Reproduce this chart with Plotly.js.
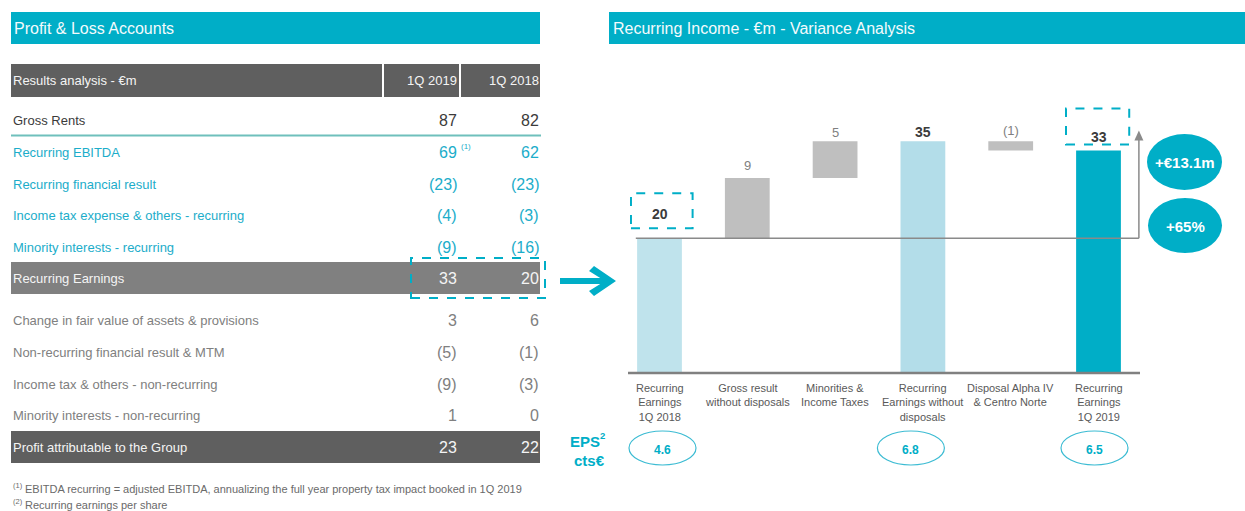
<!DOCTYPE html>
<html>
<head>
<meta charset="utf-8">
<script src="https://cdn.plot.ly/plotly-3.0.1.min.js"></script>
<style>html,body{margin:0;padding:0;background:#fff;}#chart{width:1245px;height:511px;}</style>
</head>
<body>
<div id="chart"></div>
<script>
// ---------------- DATA ----------------
// Left table: Profit & Loss Accounts (EUR m)
const rowLabels = ['Gross Rents','Recurring EBITDA','Recurring financial result','Income tax expense & others - recurring','Minority interests - recurring','Recurring Earnings','Change in fair value of assets & provisions','Non-recurring financial result & MTM','Income tax & others - non-recurring','Minority interests - non-recurring','Profit attributable to the Group'];
const q1_2019 = [87, 69, -23, -4, -9, 33, 3, -5, -9, 1, 23];
const q1_2018 = [82, 62, -23, -3, -16, 20, 6, -1, -3, 0, 22];
const columnHeaders = ['Results analysis - €m', '1Q 2019', '1Q 2018'];
const footnotes = ['EBITDA recurring = adjusted EBITDA, annualizing the full year property tax impact booked in 1Q 2019', 'Recurring earnings per share'];
const footnoteMarks = ['(1)', '(2)'];

// Right chart: Recurring Income variance (EUR m)
const categories = ['Recurring<br>Earnings<br>1Q 2018','Gross result<br>without disposals','Minorities &<br>Income Taxes','Recurring<br>Earnings without<br>disposals','Disposal Alpha IV<br>& Centro Norte','Recurring<br>Earnings<br>1Q 2019'];
const measures = ['absolute','relative','relative','total','relative','total'];
const values = [20.1, 9.0, 5.5, null, -1.4, null];
const valueLabels = ['20','9','5','35','(1)','33'];
const epsIndex = [0, 3, 5];
const epsValues = ['4.6','6.8','6.5'];

// ---------------- STYLE ----------------
const TEAL = '#00AEC7';
const W = 1245, H = 511;
const px = x => x / W;
const py = y => 1 - y / H;
const ARIAL = 'Liberation Sans, Arial, sans-serif';

// plot-area geometry (pixels)
const PX0 = 615.6, PX1 = 1142.4, PYB = 373, PYT = 105, YMAX = 40;
const xPix = c => PX0 + (c + 0.5) / 6 * (PX1 - PX0);
const yPix = v => PYB - v / YMAX * (PYB - PYT);

const rowY = [120,152,184,215,247,278,320,352,384,415,447];
const rowKind = ['dark','teal','teal','teal','teal','band','gray','gray','gray','gray','band2'];
const kindColor = {dark:'#3b3b3b', teal:'#1cadca', gray:'#808080', band:'#f4f4f4', band2:'#f4f4f4'};
const barColors = ['#bfe3ec','#bfbfbf','#bfbfbf','#b3dde9','#bfbfbf', TEAL];
const labelStyle = [
  {size:14, color:'#3b3b3b', bold:true, shift:24},
  {size:13, color:'#7f7f7f', bold:false, shift:13},
  {size:13, color:'#7f7f7f', bold:false, shift:9},
  {size:14, color:'#3b3b3b', bold:true, shift:9},
  {size:13, color:'#7f7f7f', bold:false, shift:11},
  {size:14, color:'#3b3b3b', bold:true, shift:14}
];
const epsShift = [3, -12, -4];

function fmt(v){ return v < 0 ? '(' + Math.abs(v) + ')' : String(v); }

// ---------------- WATERFALL COMPUTATION ----------------
let running = 0;
const bases = [], heights = [], tops = [];
measures.forEach((m, i) => {
  if (m === 'absolute') { bases.push(0); heights.push(values[i]); running = values[i]; tops.push(running); }
  else if (m === 'relative') {
    const prev = running;
    running += values[i];
    bases.push(Math.min(prev, running)); heights.push(Math.abs(values[i])); tops.push(Math.max(prev, running));
  } else { bases.push(0); heights.push(running); tops.push(running); }
});
const startVal = tops[0];
const endVal = tops[tops.length - 1];
const deltaAbs = endVal - startVal;
const deltaPct = deltaAbs / startVal * 100;

const trace = {
  type: 'bar', x: categories, y: heights, base: bases,
  marker: {color: barColors, line: {width: 0}},
  width: 0.51, hoverinfo: 'none', showlegend: false
};

// ---------------- SHAPES & ANNOTATIONS ----------------
const shapes = [];
const ann = [];

function rect(x0,y0,x1,y1,fill){ shapes.push({type:'rect', xref:'paper', yref:'paper', x0:px(x0), x1:px(x1), y0:py(y1), y1:py(y0), fillcolor:fill, line:{width:0}, layer:'below'}); }
function txt(x,y,t,opt){ ann.push(Object.assign({xref:'paper', yref:'paper', x:px(x), y:py(y), text:t, showarrow:false, xanchor:'left', yanchor:'middle', font:{family:ARIAL, size:13, color:'#333'}}, opt||{})); }

// Header bars
rect(11,12,540,44,TEAL);
txt(12,28,'Profit & Loss Accounts',{font:{family:ARIAL,size:16,color:'#f4fbfd'}});
rect(609,12,1245,44,TEAL);
txt(611,28,'Recurring Income - €m - Variance Analysis',{font:{family:ARIAL,size:16,color:'#f4fbfd'}});

// Table header
rect(11,64,382,97,'#5f5f5f');
rect(384,64,459,97,'#5f5f5f');
rect(461,64,540,97,'#5f5f5f');
txt(11,80,columnHeaders[0],{font:{family:ARIAL,size:13,color:'#f4f4f4'}});
txt(459,80,columnHeaders[1],{xanchor:'right',font:{family:ARIAL,size:13,color:'#f4f4f4'}});
txt(541,80,columnHeaders[2],{xanchor:'right',font:{family:ARIAL,size:13,color:'#f4f4f4'}});

// Row bands
rect(11,262,540,294,'#808080');
rect(11,431,540,463,'#5f5f5f');
// Line under Gross Rents
shapes.push({type:'line', xref:'paper', yref:'paper', x0:px(11), x1:px(541), y0:py(135.5), y1:py(135.5), line:{color:'#6fc0bc', width:2}});

rowLabels.forEach((lab, i) => {
  const c = kindColor[rowKind[i]];
  txt(11, rowY[i], lab, {font:{family:ARIAL, size:13, color:c}});
  txt(459, rowY[i], fmt(q1_2019[i]), {xanchor:'right', font:{family:ARIAL, size:16, color:c}});
  txt(541, rowY[i], fmt(q1_2018[i]), {xanchor:'right', font:{family:ARIAL, size:16, color:c}});
});
// footnote marker on EBITDA
txt(459, 146, footnoteMarks[0], {font:{family:ARIAL, size:8, color:kindColor.teal}});

// Dashed box around Recurring Earnings values
shapes.push({type:'rect', xref:'paper', yref:'paper', x0:px(411), x1:px(545), y0:py(298), y1:py(258), line:{color:TEAL, width:2, dash:'dash'}, fillcolor:'rgba(0,0,0,0)'});

// Footnotes
[489, 505].forEach((y, k) => {
  txt(11, y - 4, footnoteMarks[k], {font:{family:ARIAL, size:7.5, color:'#6a6a6a'}});
  txt(23, y, footnotes[k], {font:{family:ARIAL, size:11, color:'#6a6a6a'}});
});

// Teal arrow between table and chart
shapes.push({type:'line', xref:'paper', yref:'paper', x0:px(560), x1:px(608), y0:py(281), y1:py(281), line:{color:TEAL, width:6}});
const chev = [[589,271],[594,266],[616,281],[594,296],[589,291],[605,281]];
shapes.push({type:'path', xref:'paper', yref:'paper', path:'M' + chev.map(p => px(p[0]) + ',' + py(p[1])).join(' L') + ' Z', fillcolor:TEAL, line:{width:0}});

// Chart baseline
shapes.push({type:'line', xref:'paper', yref:'paper', x0:px(628), x1:px(1140), y0:py(PYB), y1:py(PYB), line:{color:'#808080', width:2.5}});

// Category labels under the bars
categories.forEach((c, i) => {
  ann.push({xref:'x', yref:'paper', x:i, y:py(380), text:c, showarrow:false, xanchor:'center', yanchor:'top', align:'center', font:{family:ARIAL, size:11, color:'#595959'}});
});

// Reference line at starting level + arrow up
const arrowX = 5.46, arrowTop = 36.2;
shapes.push({type:'line', xref:'x', yref:'y', x0:-0.27, x1:arrowX, y0:startVal, y1:startVal, line:{color:'#8a8a8a', width:1.5}});
shapes.push({type:'line', xref:'x', yref:'y', x0:arrowX, x1:arrowX, y0:startVal, y1:arrowTop - 1, line:{color:'#8a8a8a', width:1.5}});
const ax = xPix(arrowX), ay = yPix(arrowTop);
shapes.push({type:'path', xref:'paper', yref:'paper', path:'M' + px(ax) + ',' + py(ay) + ' L' + px(ax - 4.5) + ',' + py(ay + 10) + ' L' + px(ax + 4.5) + ',' + py(ay + 10) + ' Z', fillcolor:'#8a8a8a', line:{width:0}});

// Value labels
valueLabels.forEach((t, i) => {
  const s = labelStyle[i];
  ann.push({xref:'x', yref:'y', x:i, y:tops[i], yshift:s.shift, text: s.bold ? '<b>' + t + '</b>' : t, showarrow:false, xanchor:'center', yanchor:'middle', font:{family:ARIAL, size:s.size, color:s.color}});
});
// Dashed boxes around first and last values
shapes.push({type:'rect', xref:'x', yref:'y', ysizemode:'pixel', yanchor:tops[0], x0:-0.325, x1:0.377, y0:10, y1:45, line:{color:TEAL, width:2, dash:'dash'}, fillcolor:'rgba(0,0,0,0)'});
shapes.push({type:'rect', xref:'x', yref:'y', ysizemode:'pixel', yanchor:tops[5], x0:4.63, x1:5.35, y0:6, y1:42, line:{color:TEAL, width:2, dash:'dash'}, fillcolor:'rgba(0,0,0,0)'});

// Variance bubbles
shapes.push({type:'circle', xref:'paper', yref:'paper', x0:px(1147), x1:px(1222), y0:py(190), y1:py(134), fillcolor:TEAL, line:{width:0}});
shapes.push({type:'circle', xref:'paper', yref:'paper', x0:px(1148), x1:px(1222), y0:py(253), y1:py(198), fillcolor:TEAL, line:{width:0}});
txt(1184.5, 162, '<b>+€' + deltaAbs.toFixed(1) + 'm</b>', {xanchor:'center', font:{family:ARIAL, size:15, color:'#ffffff'}});
txt(1185, 226, '<b>+' + Math.round(deltaPct) + '%</b>', {xanchor:'center', font:{family:ARIAL, size:15, color:'#ffffff'}});

// EPS row
txt(602, 441, '<b>EPS</b>', {xanchor:'right', font:{family:ARIAL, size:15, color:TEAL}});
txt(598, 435, '<b>2</b>', {xanchor:'left', font:{family:ARIAL, size:9.5, color:TEAL}});
txt(589, 460, '<b>cts€</b>', {xanchor:'center', font:{family:ARIAL, size:15, color:TEAL}});
epsIndex.forEach((idx, k) => {
  shapes.push({type:'circle', xref:'x', yref:'paper', xsizemode:'pixel', xanchor:idx, x0:-33.5 + epsShift[k], x1:33.5 + epsShift[k], y0:py(465), y1:py(431), line:{color:'#3dbcd3', width:1.2}, fillcolor:'rgba(0,0,0,0)'});
  ann.push({xref:'x', yref:'paper', x:idx, xshift:epsShift[k], y:py(450), text:'<b>' + epsValues[k] + '</b>', showarrow:false, xanchor:'center', yanchor:'middle', font:{family:ARIAL, size:12, color:TEAL}});
});

const layout = {
  width: W, height: H,
  margin: {l:0, r:0, t:0, b:0, pad:0},
  paper_bgcolor: '#ffffff', plot_bgcolor: 'rgba(0,0,0,0)',
  showlegend: false,
  xaxis: {type:'category', domain:[PX0/W, PX1/W], range:[-0.5, 5.5], showgrid:false, zeroline:false, showline:false, ticks:'', showticklabels:false, fixedrange:true, automargin:false},
  yaxis: {domain:[py(PYB), py(PYT)], range:[0, YMAX], visible:false, showgrid:false, zeroline:false, fixedrange:true},
  shapes: shapes, annotations: ann, hovermode:false
};

Plotly.newPlot('chart', [trace], layout, {staticPlot:true, displayModeBar:false});
</script>
</body>
</html>
